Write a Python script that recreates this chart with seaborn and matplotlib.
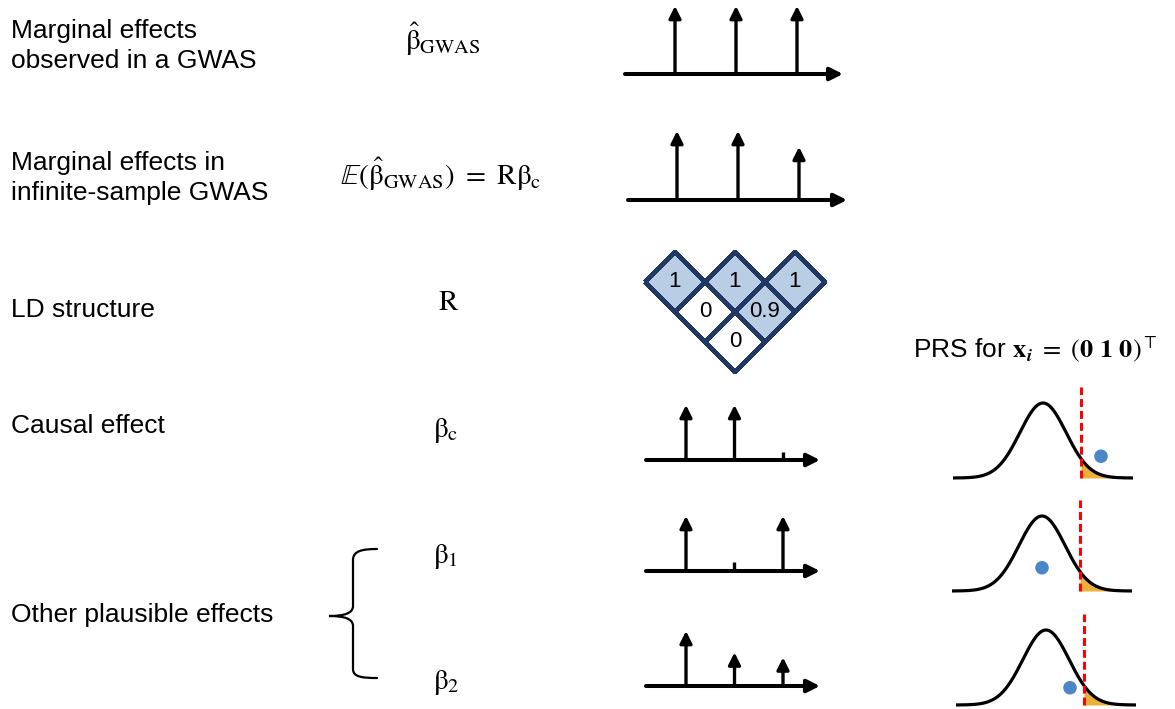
import numpy as np
import matplotlib
matplotlib.use("Agg")
import matplotlib.pyplot as plt
from matplotlib.colors import ListedColormap
from matplotlib.path import Path
from matplotlib.patches import PathPatch
from matplotlib.transforms import Affine2D
import seaborn as sns

# ---------------- data ----------------
snp = [1, 2, 3]

beta_gwas_hat = [1.0, 1.0, 1.0]
beta_gwas_expected = [1.0, 1.0, 0.77]
beta_causal = [1.0, 1.0, 0.15]
beta_alt_1 = [1.0, 0.17, 1.0]
beta_alt_2 = [1.0, 0.61, 0.52]

ld_matrix = [[1.0, 0.0, 0.0],
             [0.0, 1.0, 0.9],
             [0.0, 0.9, 1.0]]

prs_threshold = 1.645
prs_score = [2.51, 0.0, 1.04]
prs_marker_height = [0.29, 0.31, 0.23]

row_labels = ["Marginal effects\nobserved in a GWAS",
              "Marginal effects in\ninfinite-sample GWAS",
              "LD structure",
              "Causal effect",
              "Other plausible effects"]
row_formulas = [r"$\hat{\mathrm{\beta}}_{\mathrm{GWAS}}$",
                r"$\mathbb{E}(\hat{\mathrm{\beta}}_{\mathrm{GWAS}})\ =\ \mathrm{R}\mathrm{\beta}_{\mathrm{c}}$",
                r"$\mathrm{R}$",
                r"$\mathrm{\beta}_{\mathrm{c}}$",
                r"$\mathrm{\beta}_{1}$",
                r"$\mathrm{\beta}_{2}$"]
prs_title = r"PRS for $\mathbf{x}_{\boldsymbol{i}}\ =\ (\mathbf{0}\ \mathbf{1}\ \mathbf{0})^{\top}$"

# ---------------- style ----------------
sns.set_theme(style="white")
plt.rcParams["font.family"] = ["Liberation Sans", "DejaVu Sans"]
plt.rcParams["mathtext.fontset"] = "stix"
plt.rcParams["text.color"] = "black"

W, H = 1175, 709
fig = plt.figure(figsize=(W / 100, H / 100), dpi=100)


def px_axes(left, top, right, bottom):
    return fig.add_axes([left / W, 1 - bottom / H, (right - left) / W, (bottom - top) / H])


# canvas for free text and the brace
bg = px_axes(0, 0, W, H)
bg.set_xlim(0, W)
bg.set_ylim(H, 0)
bg.axis("off")

label_pos = [(11, 46), (11, 178), (11, 310), (11, 426), (11, 615)]
for txt, (x, y) in zip(row_labels, label_pos):
    bg.text(x, y, txt, fontsize=19, ha="left", va="center", linespacing=1.27)

formula_pos = [(405, 50), (340, 185), (438, 310), (433, 437), (433, 563), (433, 689)]
for txt, (x, y) in zip(row_formulas, formula_pos):
    bg.text(x, y, txt, fontsize=21, ha="left", va="baseline")

bg.text(913, 357, prs_title, fontsize=19, ha="left", va="baseline")

# curly brace grouping the alternative effects
brace = Path(
    [(377, 549), (362, 549), (353, 551), (353, 560), (353, 606),
     (353, 613), (345, 616), (329, 616),
     (345, 616), (353, 619), (353, 626), (353, 669),
     (353, 677), (362, 678), (377, 678)],
    [Path.MOVETO, Path.CURVE4, Path.CURVE4, Path.CURVE4, Path.LINETO,
     Path.CURVE4, Path.CURVE4, Path.CURVE4,
     Path.CURVE4, Path.CURVE4, Path.CURVE4, Path.LINETO,
     Path.CURVE4, Path.CURVE4, Path.CURVE4])
bg.add_patch(PathPatch(brace, fill=False, lw=1.6, edgecolor="black", capstyle="round"))


# ---------------- stem panels ----------------
def stem_panel(values, x_start, x_end, base_y, snp1_x, spacing, unit):
    top = base_y - 1.15 * unit
    bottom = base_y + 10
    ax = px_axes(x_start, top, x_end, bottom)
    x0 = 1 + (x_start - snp1_x) / spacing
    x1 = 1 + (x_end - snp1_x) / spacing
    ax.set_xlim(x0, x1)
    ax.set_ylim(-(bottom - base_y) / unit, (base_y - top) / unit)
    ax.axis("off")
    ax.annotate("", xy=(x1, 0), xytext=(x0, 0), annotation_clip=False,
                arrowprops=dict(arrowstyle="-|>", lw=2.9, color="black",
                                mutation_scale=19, shrinkA=0, shrinkB=0))
    for s, v in zip(snp, values):
        if v >= 0.25:
            ax.annotate("", xy=(s, v), xytext=(s, 0), annotation_clip=False,
                        arrowprops=dict(arrowstyle="-|>", lw=2.4, color="black",
                                        mutation_scale=18, shrinkA=0, shrinkB=0))
        else:
            ax.vlines(s, 0, v, color="black", lw=2.4)
    return ax


stem_panel(beta_gwas_hat, 625, 843, 74, 675, 61, 68)
stem_panel(beta_gwas_expected, 628, 847, 200, 677, 61, 69)
stem_panel(beta_causal, 646, 820, 460, 686, 48.5, 55)
stem_panel(beta_alt_1, 646, 820, 571, 686, 48.5, 55)
stem_panel(beta_alt_2, 646, 820, 686, 686, 48.5, 55)

# ---------------- LD triangle ----------------
ax_ld = px_axes(639, 246, 831, 378)
R = np.array(ld_matrix)
mask = np.tril(np.ones_like(R, dtype=bool), k=-1)
navy = "#1f3864"
sns.heatmap(R, mask=mask, cmap=ListedColormap(["white", "#b9cde5"]), vmin=0, vmax=1,
            cbar=False, linewidths=2.6, linecolor=navy, ax=ax_ld)
mesh = ax_ld.collections[0]
mesh.set_edgecolor([(0, 0, 0, 0) if m else navy for m in mask.ravel()])
rot = Affine2D(np.array([[0.5, 0.5, 0.0], [0.5, -0.5, 0.0], [0.0, 0.0, 1.0]]))
mesh.set_transform(rot + ax_ld.transData)
ax_ld.set_xlim(-0.1, 3.1)
ax_ld.set_ylim(1.6, -0.6)
ax_ld.axis("off")
for r in range(3):
    for c in range(r, 3):
        ax_ld.text(c + 0.5, r + 0.5, f"{R[r, c]:g}", transform=rot + ax_ld.transData,
                   ha="center", va="center", fontsize=16, color="black")


# ---------------- PRS distributions ----------------
def prs_panel(score, height, peak_x, base_y):
    sig, unit, span = 23.1, 75, 3.9
    ax = px_axes(peak_x - span * sig, base_y - 1.25 * unit, peak_x + span * sig, base_y + 0.05 * unit)
    z = np.linspace(-span, span, 400)
    dens = np.exp(-z ** 2 / 2)
    tail = z >= prs_threshold
    ax.fill_between(z[tail], 0, dens[tail], color="#eab13a", lw=0, zorder=1)
    sns.lineplot(x=z, y=dens, ax=ax, color="black", linewidth=2.3, zorder=2)
    ax.vlines(prs_threshold, 0, 1.21, colors="#ff0000", linestyles=(0, (2.6, 1.3)), lw=2.2, zorder=3)
    sns.scatterplot(x=[score], y=[height], ax=ax, s=95, color="#4b86c8", edgecolor="none", zorder=4)
    ax.set_xlim(-span, span)
    ax.set_ylim(-0.05, 1.25)
    ax.axis("off")


prs_panel(prs_score[0], prs_marker_height[0], 1043, 478)
prs_panel(prs_score[1], prs_marker_height[1], 1042, 591)
prs_panel(prs_score[2], prs_marker_height[2], 1046, 705)

fig.savefig("out.png", dpi=100)
